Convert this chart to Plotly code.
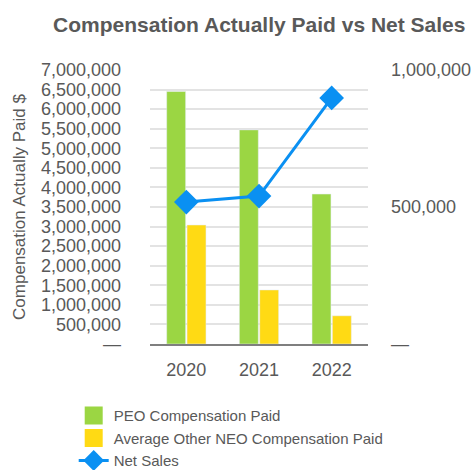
import plotly.graph_objects as go

years = ["2020", "2021", "2022"]
peo_paid = [6450000, 5470000, 3830000]
neo_paid = [3040000, 1380000, 720000]
net_sales = [518000, 540000, 898000]

left_vals = [0, 500000, 1000000, 1500000, 2000000, 2500000, 3000000, 3500000,
             4000000, 4500000, 5000000, 5500000, 6000000, 6500000, 7000000]
left_text = ["—"] + [f"{v:,}" for v in left_vals[1:]]
right_vals = [0, 500000, 1000000]
right_text = ["—", "500,000", "1,000,000"]

FONT = "Liberation Sans, Arial, sans-serif"
GREY = "#595959"
GREEN = "#9BD643"
YELLOW = "#FFDA14"
BLUE = "#0A90F2"

fig = go.Figure()
fig.add_trace(go.Bar(x=years, y=peo_paid, name="PEO Compensation Paid",
                     showlegend=False, legendgroup="peo",
                     marker=dict(color=GREEN)))
fig.add_trace(go.Bar(x=years, y=neo_paid, name="Average Other NEO Compensation Paid",
                     showlegend=False, legendgroup="neo",
                     marker=dict(color=YELLOW)))
# legend entries with larger square swatches
fig.add_trace(go.Scatter(x=[None], y=[None], mode="markers", name="PEO Compensation Paid",
                         legendgroup="peo",
                         marker=dict(symbol="square", size=16, color=GREEN,
                                     line=dict(color=GREEN, width=2))))
fig.add_trace(go.Scatter(x=[None], y=[None], mode="markers",
                         name="Average Other NEO Compensation Paid", legendgroup="neo",
                         marker=dict(symbol="square", size=16, color=YELLOW,
                                     line=dict(color=YELLOW, width=2))))
fig.add_trace(go.Scatter(x=years, y=net_sales, name="Net Sales", yaxis="y2",
                         mode="lines+markers",
                         line=dict(color=BLUE, width=3),
                         marker=dict(symbol="diamond", size=19, color=BLUE)))

fig.update_layout(
    width=474, height=470,
    margin=dict(l=150, r=106, t=70, b=126, autoexpand=False),
    paper_bgcolor="white", plot_bgcolor="white",
    font=dict(family=FONT, color=GREY, size=17),
    title=dict(text="<b>Compensation Actually Paid vs Net Sales</b>",
               x=0.547, xanchor="center", y=0.947, yanchor="middle",
               font=dict(size=21, color=GREY, family=FONT)),
    barmode="group", bargap=0.44, bargroupgap=0.07,
    showlegend=True,
    legend=dict(x=-0.35, xanchor="left", y=-0.2015, yanchor="top",
                font=dict(size=15, color=GREY, family=FONT),
                tracegroupgap=0, itemwidth=30, bgcolor="rgba(0,0,0,0)"),
    xaxis=dict(showgrid=False, showline=True, linecolor="#7f7f7f", linewidth=2,
               ticks="", tickfont=dict(size=18, color=GREY), ticklabelstandoff=8),
    yaxis=dict(range=[0, 7000000], tickvals=left_vals, ticktext=left_text,
               showgrid=True, gridcolor="#e3e3e3", gridwidth=1.5,
               zeroline=False, ticks="", ticklabelstandoff=28,
               tickfont=dict(size=18, color=GREY),
               title=dict(text="Compensation Actually Paid $", standoff=10,
                          font=dict(size=17, color=GREY))),
    yaxis2=dict(range=[0, 1000000], tickvals=right_vals, ticktext=right_text,
                overlaying="y", side="right", showgrid=False, zeroline=False,
                ticks="", ticklabelstandoff=22, tickfont=dict(size=18, color=GREY)),
)

fig.write_html("out.html")
